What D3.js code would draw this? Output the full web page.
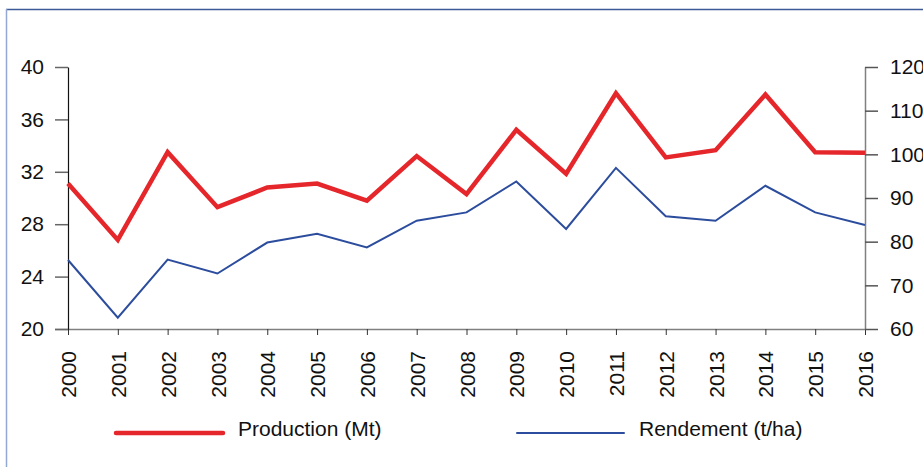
<!DOCTYPE html>
<html>
<head>
<meta charset="utf-8">
<script src="https://cdn.jsdelivr.net/npm/d3@7"></script>
<style>
  html, body { margin: 0; padding: 0; background: #fff; }
  svg { display: block; font-family: "Liberation Sans", Arial, sans-serif; }
</style>
</head>
<body>
<svg id="chart" width="923" height="467"></svg>
<script>
const years = [2000, 2001, 2002, 2003, 2004, 2005, 2006, 2007, 2008, 2009, 2010, 2011, 2012, 2013, 2014, 2015, 2016];
const production = [31.1, 26.8, 33.5, 29.3, 30.8, 31.1, 29.8, 33.2, 30.3, 35.2, 31.85, 38.0, 33.1, 33.65, 37.9, 33.5, 33.45];
const rendement = [75.8, 62.6, 75.9, 72.7, 79.8, 81.8, 78.7, 84.8, 86.7, 93.8, 82.9, 96.9, 85.8, 84.8, 92.8, 86.7, 83.8];
const leftTicks = [20, 24, 28, 32, 36, 40];
const rightTicks = [60, 70, 80, 90, 100, 110, 120];
const seriesNames = ["Production (Mt)", "Rendement (t/ha)"];

(function () {
const svg = d3.select("#chart");
const pL = 68, pR = 865, pT = 67, pB = 329;
const fs = 21;

// frame
svg.append("line").attr("x1", 6).attr("x2", 923).attr("y1", 9.5).attr("y2", 9.5)
  .attr("stroke", "#3d5a96").attr("stroke-width", 1.5);
svg.append("line").attr("x1", 6.5).attr("x2", 6.5).attr("y1", 9).attr("y2", 467)
  .attr("stroke", "#93a8d4").attr("stroke-width", 1.5);

const x = d3.scalePoint().domain(years).range([pL, pR]);
const yL = d3.scaleLinear().domain([20, 40]).range([pB, pT]);
const yR = d3.scaleLinear().domain([60, 120]).range([pB, pT]);

// x axis
const xAxis = svg.append("g").attr("transform", `translate(0,${pB})`)
  .call(d3.axisBottom(x).tickSize(6).tickSizeOuter(0).tickFormat(d3.format("d")));
xAxis.select(".domain").attr("stroke", "#808080").attr("stroke-width", 1.5)
  .attr("d", `M${pL - 13},0.5H${pR}`);
xAxis.selectAll(".tick line").attr("stroke", "#333");
xAxis.selectAll(".tick text")
  .attr("transform", "rotate(-90)")
  .attr("text-anchor", "end")
  .attr("x", -22).attr("y", 0).attr("dy", "0.36em")
  .attr("font-size", fs).attr("fill", "#111");

// left axis
const lAxis = svg.append("g").attr("transform", `translate(${pL},0)`)
  .call(d3.axisLeft(yL).tickValues(leftTicks).tickSize(13).tickSizeOuter(0).tickPadding(11));
lAxis.select(".domain").attr("stroke", "#111").attr("stroke-width", 1.2);
lAxis.selectAll(".tick line").attr("stroke", "#666").attr("stroke-width", 1.5);
lAxis.selectAll(".tick text").attr("font-size", fs).attr("fill", "#111");

// right axis
const rAxis = svg.append("g").attr("transform", `translate(${pR},0)`)
  .call(d3.axisRight(yR).tickValues(rightTicks).tickSize(13).tickSizeOuter(0).tickPadding(12));
rAxis.select(".domain").attr("stroke", "#808080").attr("stroke-width", 1.5);
rAxis.selectAll(".tick line").attr("stroke", "#555").attr("stroke-width", 1.5);
rAxis.selectAll(".tick text").attr("font-size", fs).attr("fill", "#111");

// lines
const lineL = d3.line().x((d, i) => x(years[i])).y(d => yL(d));
const lineR = d3.line().x((d, i) => x(years[i])).y(d => yR(d));
svg.append("path").datum(rendement).attr("d", lineR)
  .attr("fill", "none").attr("stroke", "#2c4d9d").attr("stroke-width", 2);
svg.append("path").datum(production).attr("d", lineL)
  .attr("fill", "none").attr("stroke", "#e5262a").attr("stroke-width", 4.5);

// legend
const legend = [
  { name: seriesNames[0], color: "#e5262a", w: 4.5, x0: 116 },
  { name: seriesNames[1], color: "#2c4d9d", w: 2, x0: 517 }
];
legend.forEach(l => {
  svg.append("line").attr("x1", l.x0).attr("x2", l.x0 + 107).attr("y1", 433).attr("y2", 433)
    .attr("stroke", l.color).attr("stroke-width", l.w).attr("stroke-linecap", "round");
  svg.append("text").attr("x", l.x0 + 122).attr("y", 436)
    .attr("font-size", fs).attr("fill", "#111").text(l.name);
});
})();
</script>
</body>
</html>
